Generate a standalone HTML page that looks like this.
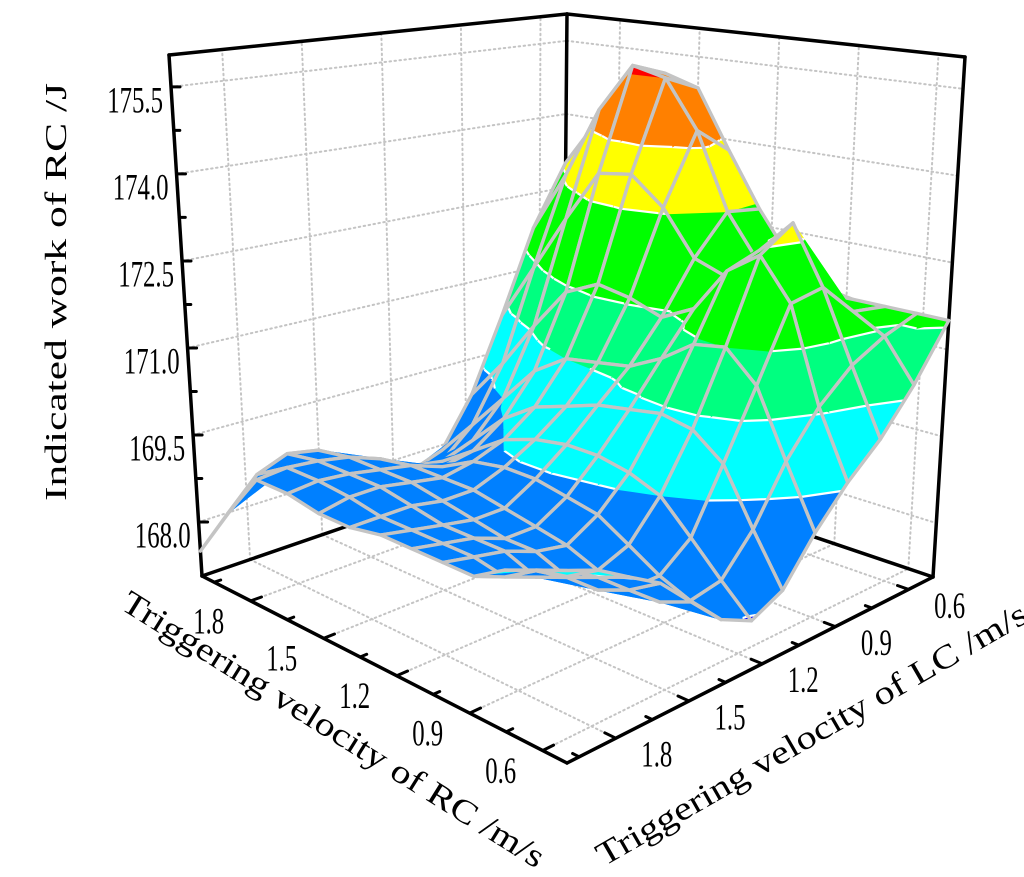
<!DOCTYPE html>
<html><head><meta charset="utf-8"><style>
html,body{margin:0;padding:0;background:#fff;}
svg{display:block;font-family:"Liberation Serif","Times New Roman",serif;}
</style></head><body>
<svg id="chart" width="1024" height="877" viewBox="0 0 1024 877" xmlns="http://www.w3.org/2000/svg">
<g id="grid"></g>
<g id="boxBack"></g>
<g id="surface"></g>
<g id="boxFront"></g>
<g id="labels"></g>
<text x="0" y="0" font-size="31" text-anchor="middle" transform="translate(66,292) rotate(-90)" textLength="418" lengthAdjust="spacingAndGlyphs">Indicated work of RC /J</text>
<text x="0" y="0" font-size="33" text-anchor="middle" dominant-baseline="central" transform="translate(333,730) rotate(32)" textLength="492" lengthAdjust="spacingAndGlyphs">Triggering velocity of RC /m/s</text>
<text x="0" y="0" font-size="33" text-anchor="middle" dominant-baseline="central" transform="translate(812,735) rotate(-30)" textLength="492" lengthAdjust="spacingAndGlyphs">Triggering velocity of LC /m/s</text>
</svg>
<script>
const rcTicks=[1.8,1.5,1.2,0.9,0.6];
const lcTicks=[1.8,1.5,1.2,0.9,0.6];
const zTicks=[168.0,169.5,171.0,172.5,174.0,175.5];
const zTickLabels=["168.0","169.5","171.0","172.5","174.0","175.5"];
const rcGrid=[2.0,1.875,1.75,1.625,1.5,1.375,1.25,1.125,1.0,0.875,0.75,0.625,0.5];
const lcGrid=[2.0,1.875,1.75,1.625,1.5,1.375,1.25,1.125,1.0,0.875,0.75,0.625,0.5];
const Z=[
[167.5,168.0,168.5,168.6,168.3,168.0,167.8,167.7,167.9,168.8,170.2,171.8,173.0],
[168.4,168.9,169.1,169.0,168.7,168.3,168.1,168.1,168.6,169.6,171.3,173.0,174.0],
[169.2,169.25,169.2,169.1,168.9,168.6,168.5,168.7,169.3,170.5,172.4,174.4,175.0],
[169.2,169.25,169.2,169.1,169.0,168.8,168.9,169.3,170.0,171.3,173.4,175.35,175.1],
[169.1,169.2,169.2,169.1,169.0,169.1,169.3,169.7,170.4,171.6,173.5,175.2,174.9],
[169.1,169.1,169.1,169.0,169.0,169.2,169.5,169.9,170.5,171.5,173.0,174.3,173.8],
[169.2,169.1,169.0,168.9,168.9,169.2,169.6,170.1,170.6,171.3,172.2,172.9,172.8],
[169.2,169.1,169.0,168.8,168.8,169.1,169.6,170.2,170.9,171.6,172.0,172.1,172.0],
[169.2,169.1,169.0,168.8,168.7,169.0,169.5,170.3,171.3,172.4,172.6,171.9,171.6],
[169.2,169.0,168.8,168.6,168.5,168.7,169.3,170.2,171.4,172.8,173.2,171.8,171.5],
[169.5,169.3,169.0,168.6,168.4,168.4,168.8,169.8,170.9,172.1,172.2,171.6,171.5],
[169.7,169.5,169.2,168.8,168.4,168.2,168.3,168.9,169.8,170.5,171.0,171.3,171.5],
[169.8,169.7,169.4,169.1,168.6,168.1,167.85,168.1,168.8,169.4,169.9,170.6,171.5]
];
const levels=[167.9,169.3,170.4,171.4,172.9,174.0,175.2];
const bandColors=["#0000ff","#0080ff","#00ffff","#00ff80","#00ff00","#ffff00","#ff8000","#ff0000"];

const NS="http://www.w3.org/2000/svg";
const floorP={L:[202,576],F:[567,763],B:[563,452],R:[933,577]};
const topP={L:[169,55],F:[567,150],B:[567,14],R:[965,57]};
const ZMIN=167.07, ZMAX=176.05;
function sOf(rc){return (2.0-rc)/1.5;}
function tOf(lc){return (2.0-lc)/1.5;}
function wOf(z){return (z-ZMIN)/(ZMAX-ZMIN);}
function bil(P,s,t){const a=(1-s)*(1-t),b=s*(1-t),c=(1-s)*t,d=s*t;
 return [a*P.L[0]+b*P.F[0]+c*P.B[0]+d*P.R[0],a*P.L[1]+b*P.F[1]+c*P.B[1]+d*P.R[1]];}
function proj(s,t,w){const f=bil(floorP,s,t),g=bil(topP,s,t);return [f[0]+(g[0]-f[0])*w,f[1]+(g[1]-f[1])*w];}
function mk(tag,parent,attrs){const e=document.createElementNS(NS,tag);for(const k in attrs)e.setAttribute(k,attrs[k]);parent.appendChild(e);return e;}
function line(parent,a,b,stroke,width,dash){const e=mk('line',parent,{x1:a[0].toFixed(1),y1:a[1].toFixed(1),x2:b[0].toFixed(1),y2:b[1].toFixed(1),stroke:stroke,'stroke-width':width,'stroke-linecap':'round'});if(dash)e.setAttribute('stroke-dasharray',dash);return e;}

const grid=document.getElementById('grid');
const GC="#c4c4c4", DASH="1.5,3.5";
rcTicks.forEach(v=>{const s=sOf(v);
 const a=line(grid,proj(s,0,0),proj(s,1,0),GC,2,DASH);
 
 
 const b=line(grid,proj(s,1,0),proj(s,1,1),GC,2,DASH);
 
 });
lcTicks.forEach(v=>{const t=tOf(v);
 const a=line(grid,proj(0,t,0),proj(1,t,0),GC,2,DASH);
 
 
 const b=line(grid,proj(0,t,0),proj(0,t,1),GC,2,DASH);
 
 });
zTicks.forEach(v=>{const w=wOf(v);
 const a=line(grid,proj(0,0,w),proj(0,1,w),GC,2,DASH);
 
 
 const b=line(grid,proj(0,1,w),proj(1,1,w),GC,2,DASH);
 
 });

const back=document.getElementById('boxBack');
[[[0,0,0],[0,1,0]],[[0,1,0],[1,1,0]],[[0,0,0],[0,0,1]],[[0,1,0],[0,1,1]],[[1,1,0],[1,1,1]],[[0,0,1],[0,1,1]],[[0,1,1],[1,1,1]]].forEach(e=>{
 const l=line(back,proj(...e[0]),proj(...e[1]),"#000",3.5);
 
 });
for(let z=168.0; z<=175.6; z+=0.75){const w=wOf(z);const major=Math.abs((z-168)/1.5-Math.round((z-168)/1.5))<0.01;
 const p=proj(0,0,w);const l=line(back,p,[p[0]+(major?9:6),p[1]],"#000",3);
 
 }

const surf=document.getElementById('surface');
function clip(poly,f){const out=[];const n=poly.length;
 for(let i=0;i<n;i++){const A=poly[i],B=poly[(i+1)%n];const fa=f(A),fb=f(B);
  if(fa>=0)out.push(A);
  if((fa>=0)!==(fb>=0)){const u=fa/(fa-fb);out.push({s:A.s+(B.s-A.s)*u,t:A.t+(B.t-A.t)*u,z:A.z+(B.z-A.z)*u});}}
 return out;}
function pt(v){const p=proj(v.s,v.t,wOf(v.z));return p[0].toFixed(1)+','+p[1].toFixed(1);}
const quads=[];
for(let i=0;i<rcGrid.length-1;i++)for(let j=0;j<lcGrid.length-1;j++){
 const V=(a,b)=>({s:sOf(rcGrid[a]),t:tOf(lcGrid[b]),z:Z[a][b]});
 const q=[V(i,j),V(i+1,j),V(i+1,j+1),V(i,j+1)];
 const cs=(q[0].s+q[2].s)/2, ct=(q[0].t+q[2].t)/2;
 quads.push({q:q,key:(1-cs)+ct});}
quads.sort((a,b)=>b.key-a.key);
quads.forEach(Q=>{
 const g=mk('g',surf,{});
 
 
 const q=Q.q;const tris=[[q[0],q[1],q[2]],[q[0],q[2],q[3]]];
 tris.forEach(tr=>{
  for(let k=0;k<bandColors.length;k++){
   const lo=k===0?-1e9:levels[k-1], hi=k===levels.length?1e9:levels[k];
   let p=clip(tr,v=>v.z-lo);if(p.length<3)continue;
   p=clip(p,v=>hi-v.z);if(p.length<3)continue;
   const poly=mk('polygon',g,{points:p.map(pt).join(' '),fill:bandColors[k],stroke:bandColors[k],'stroke-width':0.8,'stroke-linejoin':'round'});
   
   
  }
  levels.forEach(L=>{const pts=[];
   for(let e=0;e<3;e++){const A=tr[e],B=tr[(e+1)%3];
    if((A.z-L)*(B.z-L)<0){const u=(L-A.z)/(B.z-A.z);pts.push({s:A.s+(B.s-A.s)*u,t:A.t+(B.t-A.t)*u,z:L});}}
   if(pts.length===2){const c=mk('polyline',g,{points:pts.map(pt).join(' '),stroke:'#fff','stroke-width':2.2,fill:'none'});
    
    }
  });
 });
 const o=mk('polygon',g,{points:q.map(pt).join(' '),fill:'none',stroke:'#c4c4c4','stroke-width':3.4,'stroke-linejoin':'round'});
 
 
});

const front=document.getElementById('boxFront');
const e1=line(front,proj(0,0,0),proj(1,0,0),"#000",3.5);


const e2=line(front,proj(1,0,0),proj(1,1,0),"#000",3.5);


for(let v=1.95;v>=0.5;v-=0.15){const s=sOf(v);const major=rcTicks.some(x=>Math.abs(x-v)<0.01);
 const l=line(front,proj(s,0,0),proj(s,major?0.03:0.018,0),"#000",3);
 
 }
for(let v=1.95;v>=0.5;v-=0.15){const t=tOf(v);const major=lcTicks.some(x=>Math.abs(x-v)<0.01);
 const l=line(front,proj(1,t,0),proj(major?0.97:0.982,t,0),"#000",3);
 
 }

const labels=document.getElementById('labels');
const LT=' scale(0.8,1.2)';
zTicks.forEach((v,i)=>{const p=proj(0,0,wOf(v));
 const t=mk('text',labels,{x:0,y:0,transform:'translate('+(p[0]-8).toFixed(1)+','+(p[1]+13).toFixed(1)+')'+LT,'font-size':31,'text-anchor':'end','dominant-baseline':'central'});
 t.textContent=zTickLabels[i];
 
 });
rcTicks.forEach(v=>{const p=proj(sOf(v),0,0);
 const t=mk('text',labels,{x:0,y:0,transform:'translate('+(p[0]-42).toFixed(1)+','+(p[1]+20).toFixed(1)+')'+LT,'font-size':31,'text-anchor':'middle','dominant-baseline':'central'});
 t.textContent=v.toFixed(1);
 
 });
lcTicks.forEach(v=>{const p=proj(1,tOf(v),0);
 const t=mk('text',labels,{x:0,y:0,transform:'translate('+(p[0]+41).toFixed(1)+','+(p[1]+16).toFixed(1)+')'+LT,'font-size':31,'text-anchor':'middle','dominant-baseline':'central'});
 t.textContent=v.toFixed(1);
 
 });
</script>
</body></html>
